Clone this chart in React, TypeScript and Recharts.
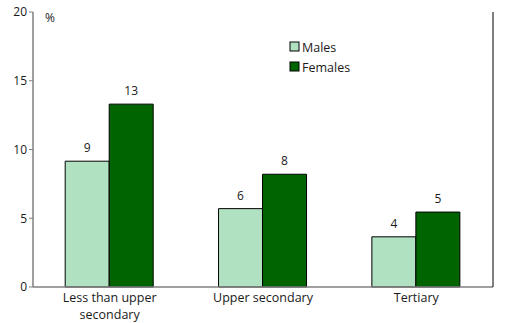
import React from 'react';
import { BarChart, Bar, XAxis, YAxis, Legend, LabelList } from 'recharts';

const categories = ['Less than upper secondary', 'Upper secondary', 'Tertiary'];
const males = [9.15, 5.7, 3.65];
const females = [13.3, 8.2, 5.45];
const yTicks = [0, 5, 10, 15, 20];
const seriesNames = ['Males', 'Females'];

const MALE_COLOR = '#b0e2c2';
const FEMALE_COLOR = '#006400';
const FONT = '"Open Sans", sans-serif';

const data = categories.map((c, i) => ({ category: c, Males: males[i], Females: females[i] }));

const XTick = (props: any) => {
  const { x, y, payload } = props;
  const words = String(payload.value).split(' ');
  const lines: string[] = [];
  let cur = '';
  for (const w of words) {
    const t = cur ? cur + ' ' + w : w;
    if (t.length > 16 && cur) {
      lines.push(cur);
      cur = w;
    } else cur = t;
  }
  if (cur) lines.push(cur);
  return (
    <text x={x} y={y} textAnchor="middle" fill="#1a1a1a" fontSize={12.5} fontFamily={FONT}>
      {lines.map((l, i) => (
        <tspan key={i} x={x} dy={i === 0 ? 7 : 16.5}>{l}</tspan>
      ))}
    </text>
  );
};

const LegendContent = (props: any) => {
  const items = [...(props.payload || [])].sort(
    (a: any, b: any) => seriesNames.indexOf(a.value) - seriesNames.indexOf(b.value)
  );
  return (
    <div style={{ fontFamily: FONT, fontSize: 12.5, color: '#1a1a1a' }}>
      {items.map((it: any, i: number) => (
        <div key={i} style={{ display: 'flex', alignItems: 'center', height: 20 }}>
          <svg width={13} height={12}>
            <rect x={1} y={1} width={9} height={9} fill={it.color} stroke="#000" strokeWidth={1} />
          </svg>
          <span>{it.value}</span>
        </div>
      ))}
    </div>
  );
};

const PercentLabel = (props: any) => {
  const { viewBox } = props;
  const x = viewBox.x + viewBox.width + 12;
  return (
    <text x={x} y={22} fill="#1a1a1a" fontSize={12} fontFamily={FONT}>%</text>
  );
};

export default function App() {
  return (
    <div style={{ position: 'absolute', left: 0, top: 0, width: 520, height: 323, background: '#fff' }}>
      <BarChart
        width={520}
        height={323}
        data={data}
        margin={{ top: 12, right: 0, bottom: 0, left: 0 }}
        barCategoryGap="21%"
        barGap={0}
      >
        <XAxis
          dataKey="category"
          tickLine={false}
          axisLine={{ stroke: '#808080', strokeWidth: 1.5 }}
          tick={<XTick />}
          height={36}
          interval={0}
        />
        <YAxis
          yAxisId="left"
          orientation="left"
          domain={[0, 20]}
          ticks={yTicks}
          width={33}
          axisLine={{ stroke: '#808080', strokeWidth: 1.5 }}
          tickLine={{ stroke: '#808080' }}
          tickSize={4}
          tick={{ fill: '#1a1a1a', fontSize: 12, fontFamily: FONT }}
          label={<PercentLabel />}
        />
        <YAxis
          yAxisId="right"
          orientation="right"
          domain={[0, 20]}
          ticks={yTicks}
          width={27}
          axisLine={{ stroke: '#000', strokeWidth: 1 }}
          tickLine={{ stroke: '#000' }}
          tickSize={4}
          tick={{ fill: '#1a1a1a', fontSize: 12, fontFamily: FONT }}
        />
        <Legend
          layout="vertical"
          verticalAlign="middle"
          align="center"
          content={<LegendContent />}
          wrapperStyle={{ left: 289, top: 37, width: 90 }}
        />
        <Bar dataKey="Males" yAxisId="left" fill={MALE_COLOR} stroke="#000" strokeWidth={1} isAnimationActive={false}>
          <LabelList dataKey="Males" position="top" offset={9} formatter={(v: any) => Math.round(Number(v))} style={{ fill: '#1a1a1a', fontSize: 12, fontFamily: FONT }} />
        </Bar>
        <Bar dataKey="Females" yAxisId="left" fill={FEMALE_COLOR} stroke="#000" strokeWidth={1} isAnimationActive={false}>
          <LabelList dataKey="Females" position="top" offset={9} formatter={(v: any) => Math.round(Number(v))} style={{ fill: '#1a1a1a', fontSize: 12, fontFamily: FONT }} />
        </Bar>
      </BarChart>
    </div>
  );
}
